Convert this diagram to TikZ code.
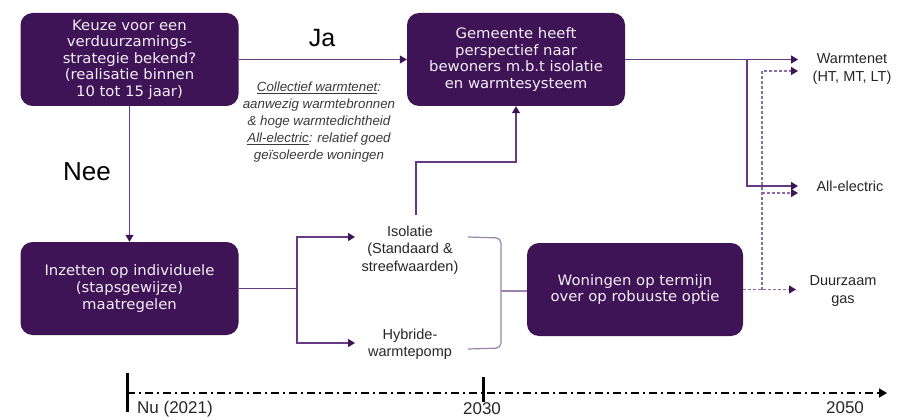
\documentclass[tikz,border=0pt]{standalone}
\usepackage{fontspec}
\setmainfont{Liberation Sans}
\newfontfamily\boxfont[FakeStretch=1.03]{DejaVu Sans}
\usetikzlibrary{arrows.meta}
\definecolor{boxpurple}{HTML}{3F1456}
\definecolor{boxtext}{HTML}{F4EEF8}
\definecolor{linepurple}{HTML}{663A84}
\definecolor{bracepurple}{HTML}{9A84AE}
\definecolor{dashpurple}{HTML}{8C6CA6}
\definecolor{tippurple}{HTML}{3F1456}
\definecolor{notegray}{HTML}{3A3A3A}
\tikzset{
  purplebox/.style={rounded corners=12pt, fill=boxpurple, text=boxtext, align=center,
    font=\boxfont\fontsize{14.4}{16.6}\selectfont, minimum width=218pt, minimum height=93pt, inner sep=0pt},
  lbl/.style={align=center, inner sep=0pt, font=\fontsize{14.5}{17.5}\selectfont, text=black!85},
  conn/.style={draw=linepurple, line width=1.2pt, -{Triangle[length=7pt,width=8pt,color=tippurple]}},
  plainconn/.style={draw=linepurple, line width=1.2pt},
  dconn/.style={draw=dashpurple, line width=1.1pt, dash pattern=on 3pt off 2pt, -{Triangle[length=7pt,width=8pt,color=tippurple]}},
  dplain/.style={draw=dashpurple, line width=1.1pt, dash pattern=on 3pt off 2pt},
  bracket/.style={draw=bracepurple, line width=1.2pt, rounded corners=5pt},
  timeline/.style={draw=black, line width=1.6pt, dash pattern=on 8pt off 4pt on 2pt off 4pt, -{Triangle[length=8pt,width=9pt]}},
  tick/.style={draw=black, line width=3pt},
  yearlbl/.style={inner sep=0pt, font=\fontsize{17}{20}\selectfont, text=black!85}
}
\begin{document}
\begin{tikzpicture}[x=1pt, y=-1pt]
\useasboundingbox (0,0) rectangle (897,417);

% boxes
\node[purplebox] (b1) at (129.5,59.5) {Keuze voor een\\verduurzamings-\\strategie bekend?\\(realisatie binnen\\10 tot 15 jaar)};
\node[purplebox] (b2) at (516,59.5) {Gemeente heeft\\perspectief naar\\bewoners m.b.t isolatie\\en warmtesysteem};
\node[purplebox] (b3) at (129.5,288.5) {Inzetten op individuele\\(stapsgewijze)\\maatregelen};
\node[purplebox, minimum width=216pt] (b4) at (635,289.5) {Woningen op termijn\\over op robuuste optie};

% labels
\node[inner sep=0pt, font=\fontsize{25}{28}\selectfont] (ja) at (322,38) {Ja};
\node[inner sep=0pt, font=\fontsize{26}{30}\selectfont] (nee) at (87,172) {Nee};
\node[align=center, inner sep=0pt, text=notegray, font=\itshape\fontsize{13.3}{16.8}\selectfont] (note) at (319,122)
  {\underline{Collectief warmtenet}:\\aanwezig warmtebronnen\\\& hoge warmtedichtheid\\\underline{All-electric}: relatief goed\\geïsoleerde woningen};

\node[lbl] (iso) at (410,250) {Isolatie\\(Standaard \&\\streefwaarden)};
\node[lbl] (hyb) at (410,344) {Hybride-\\warmtepomp};

\node[lbl, font=\fontsize{14.5}{17.5}\selectfont] (wt) at (852,69) {Warmtenet\\(HT, MT, LT)};
\node[lbl, font=\fontsize{14.5}{17.5}\selectfont] (ae) at (850,186) {All-electric};
\node[lbl, font=\fontsize{14.5}{17.5}\selectfont] (dg) at (843,291) {Duurzaam\\gas};

% coordinates
\coordinate (split) at (297,288.5);
\coordinate (isoin) at (355,237);
\coordinate (hybin) at (355,343);
\coordinate (isotop) at (416,215);
\coordinate (isobend) at (416,162);
\coordinate (br) at (747,59.5);
\coordinate (wtA) at (798,59.5);
\coordinate (wtB) at (798,71);
\coordinate (aeA) at (798,186);
\coordinate (aeB) at (798,193);
\coordinate (dgA) at (796,289.5);
\coordinate (dsplit) at (762,289.5);
\coordinate (dmid) at (762,193);
\coordinate (brA) at (468,237);
\coordinate (brB) at (468,349);
\coordinate (brM) at (501,291);

% connectors
\draw[conn] (b1.east) -- (b2.west);
\draw[conn] (b1.south) -- (b3.north);
\draw[conn] (b3.east) -- (split) |- (isoin);
\draw[conn] (split) |- (hybin);
\draw[conn] (isotop) -- (isobend) -| (b2.south);
\draw[bracket] (brA) -- (501,238) -- (501,348) -- (brB);
\draw[plainconn, draw=bracepurple] (brM) -- (b4.west |- brM);
\draw[conn] (b2.east) -- (wtA);
\draw[conn] (br) |- (aeA);
\draw[dconn] (b4.east) -- (dgA);
\draw[dconn] (dsplit) |- (wtB);
\draw[dconn] (dmid) -- (aeB);

% timeline
\coordinate (tl0) at (127,393);
\coordinate (tl1) at (887,393);
\draw[timeline] (tl0) -- (tl1);
\draw[tick] (127,373) -- (127,412);
\draw[tick] (483,377) -- (483,402);
\node[yearlbl, anchor=west] (nu) at (137,409) {Nu (2021)};
\node[yearlbl] (y30) at (482,409) {2030};
\node[yearlbl] (y50) at (845,408) {2050};
\end{tikzpicture}
\end{document}
